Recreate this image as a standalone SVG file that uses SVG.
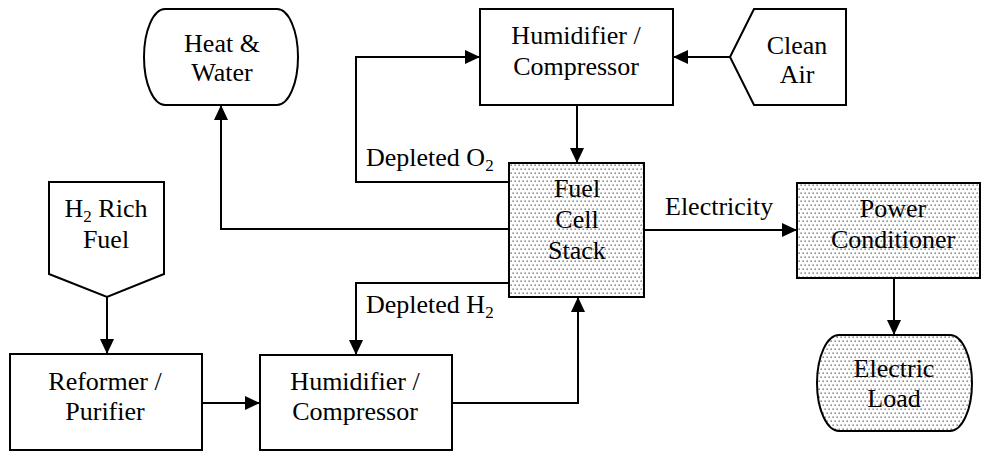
<svg xmlns="http://www.w3.org/2000/svg" width="982" height="452" viewBox="0 0 982 452">
<style>
.box{fill:#fff;stroke:#000;stroke-width:2}
.dot{fill:url(#dots);stroke:#000;stroke-width:2}
text{font-family:'Liberation Serif','DejaVu Serif',serif;font-size:26px;fill:#000}
.t{text-anchor:middle}
.sub{font-size:17px}
.c{fill:none;stroke:#000;stroke-width:2}
</style>
<defs>
<pattern id="dots" width="4" height="8" patternUnits="userSpaceOnUse">
<rect width="4" height="8" fill="#fff"/>
<rect x="0.5" y="0.5" width="1.3" height="1.3" fill="#555"/>
<rect x="2.5" y="4.5" width="1.3" height="1.3" fill="#555"/>
</pattern>
<marker id="arr" markerUnits="userSpaceOnUse" markerWidth="16" markerHeight="14" viewBox="0 0 16 14" refX="15" refY="7" orient="auto">
<path d="M0,0 L15,7 L0,14 Z" fill="#000"/>
</marker>
</defs>
<g id="connectors">
<path class="c" d="M730,57 H673" marker-end="url(#arr)"/>
<path class="c" d="M509,182 H356 V57 H480" marker-end="url(#arr)"/>
<path class="c" d="M509,229 H221 V105" marker-end="url(#arr)"/>
<path class="c" d="M509,283 H356 V355" marker-end="url(#arr)"/>
<path class="c" d="M452,403 H578 V297" marker-end="url(#arr)"/>
<path class="c" d="M107,297 V354" marker-end="url(#arr)"/>
<path class="c" d="M202,403 H260" marker-end="url(#arr)"/>
<path class="c" d="M577,105 V163" marker-end="url(#arr)"/>
<path class="c" d="M644,230 H797" marker-end="url(#arr)"/>
<path class="c" d="M894,278 V335" marker-end="url(#arr)"/>
<text x="366" y="166" font-family="Liberation Serif, serif">Depleted O<tspan class="sub" dy="5">2</tspan></text>
<text x="366" y="313" font-family="Liberation Serif, serif">Depleted H<tspan class="sub" dy="5">2</tspan></text>
<text x="665" y="215" font-family="Liberation Serif, serif">Electricity</text>
</g>
<g id="heat-water">
<path class="box" d="M165,9 H277 A21,48 0 0 1 277,105 H165 A21,48 0 0 1 165,9 Z"/>
<text class="t" x="222" y="52">Heat &amp;</text>
<text class="t" x="222" y="81">Water</text>
</g>
<g id="humidifier-top">
<rect class="box" x="480" y="9" width="193" height="96"/>
<text class="t" x="576" y="44">Humidifier /</text>
<text class="t" x="576" y="75">Compressor</text>
</g>
<g id="clean-air">
<path class="box" d="M730,57 L754,9 H846 V105 H754 Z"/>
<text class="t" x="797" y="54">Clean</text>
<text class="t" x="797" y="83">Air</text>
</g>
<g id="h2-fuel">
<path class="box" d="M49,182 H164 V274 L107,297 L49,274 Z"/>
<text class="t" x="106" y="217">H<tspan class="sub" dy="5">2</tspan><tspan dy="-5"> Rich</tspan></text>
<text class="t" x="106" y="248">Fuel</text>
</g>
<g id="fuel-cell-stack">
<rect class="dot" x="509" y="163" width="135" height="134"/>
<text class="t" x="577" y="197">Fuel</text>
<text class="t" x="577" y="228">Cell</text>
<text class="t" x="577" y="259">Stack</text>
</g>
<g id="power-conditioner">
<rect class="dot" x="797" y="183" width="183" height="95"/>
<text class="t" x="893" y="217">Power</text>
<text class="t" x="893" y="248">Conditioner</text>
</g>
<g id="electric-load">
<path class="dot" d="M839,335 H950 A22,48 0 0 1 950,431 H839 A22,48 0 0 1 839,335 Z"/>
<text class="t" x="894" y="377">Electric</text>
<text class="t" x="894" y="407">Load</text>
</g>
<g id="reformer">
<rect class="box" x="10" y="354" width="192" height="96"/>
<text class="t" x="105" y="390">Reformer /</text>
<text class="t" x="105" y="420">Purifier</text>
</g>
<g id="humidifier-bottom">
<rect class="box" x="260" y="355" width="192" height="95"/>
<text class="t" x="355" y="390">Humidifier /</text>
<text class="t" x="355" y="420">Compressor</text>
</g>
</svg>
